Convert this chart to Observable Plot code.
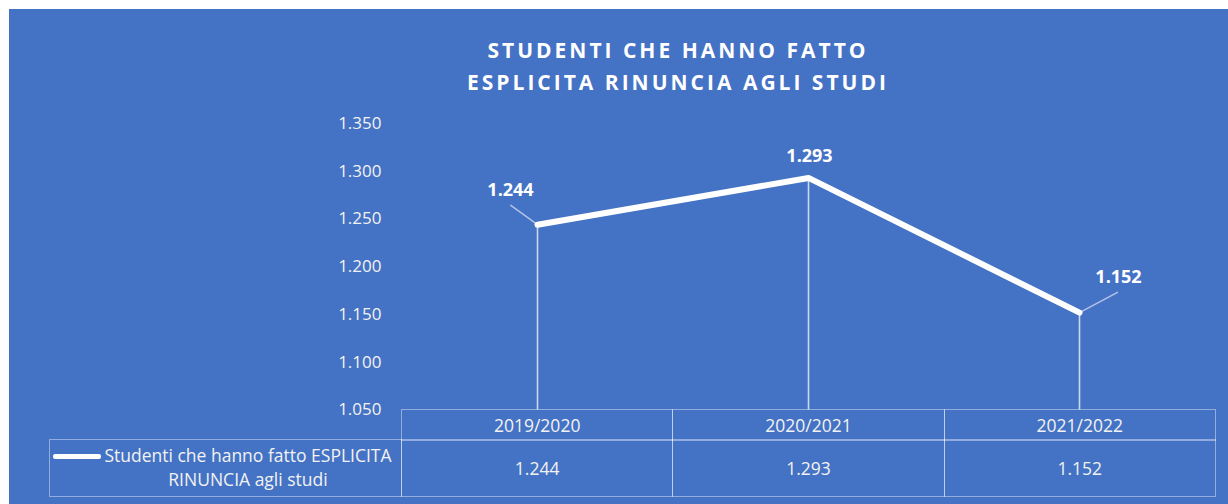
<!DOCTYPE html>
<html>
<head>
<meta charset="utf-8">
<script src="https://cdn.jsdelivr.net/npm/d3@7"></script>
<script src="https://cdn.jsdelivr.net/npm/@observablehq/plot@0.6"></script>
<style>
  html, body { margin: 0; padding: 0; background: #ffffff; }
  body { width: 1228px; height: 504px; position: relative; overflow: hidden; font-family: "Open Sans", sans-serif; }
  #card { position: absolute; left: 9px; top: 9px; width: 1219px; height: 495px; background: #4472C4; }
  .abs { position: absolute; }
  #title { left: 328px; top: 34px; width: 700px; text-align: center; color: #ffffff; font-weight: 700;
           font-size: 21px; line-height: 32px; letter-spacing: 3px; }
  #chart { left: 0; top: 100px; }
  .cell { position: absolute; box-sizing: border-box; border: 1.5px solid rgba(255,255,255,0.42);
          color: #F2F2F2; font-size: 17.5px; display: flex; align-items: center; justify-content: center; }
  #legendText { color: #F2F2F2; font-size: 17.5px; line-height: 24px; text-align: center; }
  #legendKey { background: #ffffff; border-radius: 2px; }
</style>
</head>
<body>
<div id="card"></div>
<div id="title" class="abs"></div>
<div id="chart" class="abs"></div>
<div id="table"></div>
<script>
// ---- data ----
const years = ["2019/2020", "2020/2021", "2021/2022"];
const values = [1244, 1293, 1152];
const yTicks = [1050, 1100, 1150, 1200, 1250, 1300, 1350];
const titleLines = ["STUDENTI CHE HANNO FATTO", "ESPLICITA RINUNCIA AGLI STUDI"];
const seriesLabelLines = ["Studenti che hanno fatto ESPLICITA", "RINUNCIA agli studi"];

const data = years.map((year, i) => ({year, value: values[i]}));
const itFmt = d3.formatLocale({decimal: ",", thousands: ".", grouping: [3], currency: ["€", ""]}).format(",d");

// ---- title ----
document.getElementById("title").innerHTML = titleLines.join("<br>");

// ---- label placement (style) ----
const labelOffsets = [[-27, -34], [1, -22], [39, -35]];
const leaders = [{len: 33, rot: -54}, null, {len: 43, rot: 62}];
const lineShape = { draw(ctx, l) { ctx.moveTo(0, 0); ctx.lineTo(0, -l); } };

const width = 1228, height = 320;
const marginLeft = 401, marginRight = 13;

const marks = [
  Plot.axisY(yTicks, {tickSize: 0, tickPadding: 20, tickFormat: itFmt, fill: "#F2F2F2", fontSize: 17, label: null}),
  Plot.ruleX(data, {x: "year", y1: yTicks[0], y2: "value", stroke: "#ffffff", strokeOpacity: 0.72, strokeWidth: 1.6})
];
data.forEach((d, i) => {
  if (leaders[i]) {
    marks.push(Plot.vector([d], {x: "year", y: "value", length: leaders[i].len, rotate: leaders[i].rot,
      anchor: "start", shape: lineShape, stroke: "#B4C4E8", strokeWidth: 1.5}));
  }
});
marks.push(Plot.line(data, {x: "year", y: "value", stroke: "#ffffff", strokeWidth: 6, strokeLinejoin: "round", strokeLinecap: "round"}));
data.forEach((d, i) => {
  marks.push(Plot.text([d], {x: "year", y: "value", text: dd => itFmt(dd.value), dx: labelOffsets[i][0], dy: labelOffsets[i][1],
    fill: "#ffffff", fontWeight: 700, fontSize: 18}));
});

const chart = Plot.plot({
  width, height,
  marginLeft, marginRight, marginTop: 23, marginBottom: 10.5,
  x: {type: "point", domain: years, padding: 0.5, axis: null},
  y: {domain: [yTicks[0], yTicks[yTicks.length - 1]], axis: null},
  style: {background: "transparent", color: "#ffffff", fontFamily: "'Open Sans', sans-serif", fontSize: "17px", overflow: "visible"},
  marks
});
document.getElementById("chart").appendChild(chart);

// ---- data table ----
const table = document.getElementById("table");
const bw = (width - marginLeft - marginRight) / years.length;
const headTop = 409, headH = 31, rowTop = 439, rowH = 58, legendLeft = 49;
function cell(left, top, w, h, text) {
  const c = document.createElement("div");
  c.className = "cell";
  c.style.left = left + "px"; c.style.top = top + "px";
  c.style.width = w + "px"; c.style.height = h + "px";
  if (text != null) c.textContent = text;
  table.appendChild(c);
  return c;
}
years.forEach((y, i) => cell(marginLeft + i * bw, headTop, bw + 1, headH + 1, y));
cell(legendLeft, rowTop, marginLeft - legendLeft + 1, rowH);
values.forEach((v, i) => cell(marginLeft + i * bw, rowTop, bw + 1, rowH, itFmt(v)));

const key = document.createElement("div");
key.id = "legendKey"; key.className = "abs";
Object.assign(key.style, {left: "53px", top: "454px", width: "48px", height: "4.5px"});
table.appendChild(key);

const lt = document.createElement("div");
lt.id = "legendText"; lt.className = "abs";
Object.assign(lt.style, {left: "100px", top: "443px", width: "296px"});
lt.innerHTML = seriesLabelLines.join("<br>");
table.appendChild(lt);
</script>
</body>
</html>
